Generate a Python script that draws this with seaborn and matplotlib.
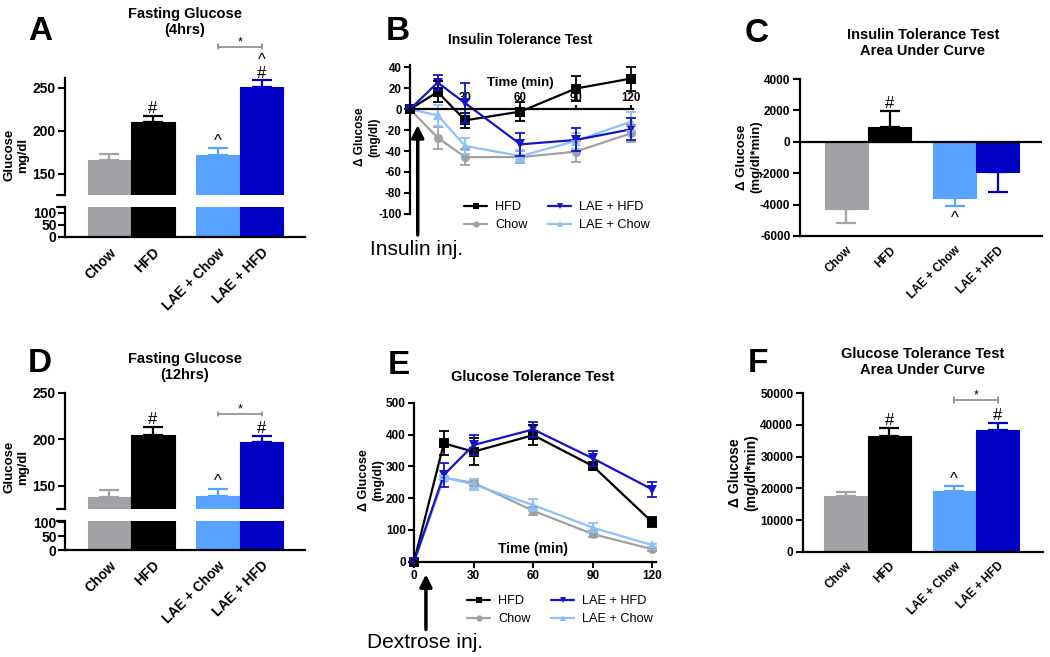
import numpy as np
import pandas as pd
import matplotlib
matplotlib.use('Agg')
import matplotlib.pyplot as plt
from matplotlib.lines import Line2D
import seaborn as sns

sns.set_style('ticks')
plt.rcParams['font.family'] = ['Liberation Sans', 'DejaVu Sans']
plt.rcParams['axes.unicode_minus'] = False
for k in ['text.color', 'axes.edgecolor', 'xtick.color', 'ytick.color', 'axes.labelcolor']:
    plt.rcParams[k] = 'black'

W, H = 1050, 657

# ---- data ----
groups = ['Chow', 'HFD', 'LAE + Chow', 'LAE + HFD']
bar_colors = {'Chow': '#A2A1A6', 'HFD': '#000000', 'LAE + Chow': '#58A3FF', 'LAE + HFD': '#0000C4'}
line_colors = {'HFD': '#000000', 'Chow': '#A0A0A0', 'LAE + HFD': '#1414C8', 'LAE + Chow': '#8CC2FA'}
line_markers = {'HFD': 's', 'Chow': 'o', 'LAE + HFD': 'v', 'LAE + Chow': '^'}
line_order = ['HFD', 'Chow', 'LAE + HFD', 'LAE + Chow']

fast4_mean = [166, 210, 172, 251]
fast4_err = [7, 6.5, 7.5, 7.5]
fast12_mean = [138, 205, 139, 197]
fast12_err = [7.5, 8.5, 8, 7]
itt_auc_mean = [-4300, 970, -3600, -1920]
itt_auc_err = [900, 1000, 470, 1270]
gtt_auc_mean = [17700, 36500, 19150, 38300]
gtt_auc_err = [1000, 2400, 1600, 2300]

times = [0, 15, 30, 60, 90, 120]
itt = {
    'HFD': [0, 16.6, -10.6, -2.2, 19.8, 29.4],
    'Chow': [0, -27.2, -45.8, -45.8, -40.6, -23],
    'LAE + HFD': [0, 25.6, 5.8, -33.6, -29.4, -19.2],
    'LAE + Chow': [0, -5.8, -35.2, -44.8, -30.4, -11.8],
}
itt_err = {
    'HFD': [0, 10, 7, 9, 12, 11.5],
    'Chow': [0, 10.5, 8, 6, 10, 8],
    'LAE + HFD': [0, 7, 19, 11, 11, 10.5],
    'LAE + Chow': [0, 10, 8, 6, 8, 9],
}
gtt = {
    'HFD': [0, 372, 346, 398, 301, 124],
    'Chow': [0, 264, 248, 160, 87, 39],
    'LAE + HFD': [0, 273, 367, 416, 325, 227],
    'LAE + Chow': [0, 265, 243, 178, 107, 52],
}
gtt_err = {
    'HFD': [0, 38, 42, 31, 12, 15],
    'Chow': [0, 5, 10, 12, 10, 5],
    'LAE + HFD': [0, 38, 30, 24, 24, 25],
    'LAE + Chow': [0, 5, 18, 18, 15, 5],
}

bar_pos = [0, 1, 2.5, 3.5]


def rect(l, t, r, b):
    return [l / W, 1 - b / H, (r - l) / W, (b - t) / H]


def ftext(x, y, s, **kw):
    fig.text(x / W, 1 - y / H, s, **kw)


def ylab(x, y, s, size):
    ftext(x, y, s, fontsize=size, fontweight='bold', rotation=90, ha='center', va='center',
          multialignment='center')


def bars(ax, mean):
    df = pd.DataFrame({'pos': bar_pos, 'val': mean, 'group': groups})
    sns.barplot(data=df, x='pos', y='val', hue='group', hue_order=groups, palette=bar_colors,
                native_scale=True, width=1, dodge=False, errorbar=None, legend=False,
                saturation=1, ax=ax)
    for p in ax.patches:
        p.set_edgecolor(p.get_facecolor())
        p.set_linewidth(0.8)


def bar_err(ax, mean, err):
    for p, m, e, g in zip(bar_pos, mean, err, groups):
        lo, hi = (0, e) if m >= 0 else (e, 0)
        ax.errorbar(p, m, yerr=[[lo], [hi]], fmt='none', ecolor=bar_colors[g],
                    elinewidth=1.6, capsize=7.5, capthick=1.6, clip_on=False, zorder=1)


def mark(ax, x, y, s, off=5.5, size=12):
    ax.annotate(s, (x, y), xytext=(0, off), textcoords='offset points', ha='center', va='center',
                fontsize=size, annotation_clip=False)


def bracket(ax, y, h, x0=2.5, x1=3.5):
    ax.plot([x0, x1], [y, y], color='#808080', lw=1.1, clip_on=False)
    for x in (x0, x1):
        ax.plot([x, x], [y - h, y + h], color='#808080', lw=1.1, clip_on=False)
    ax.annotate('*', (0.5 * (x0 + x1), y), xytext=(0, 1), textcoords='offset points',
                ha='center', va='baseline', fontsize=9, annotation_clip=False)


def style_ticks(ax, size=8.5):
    for lab in ax.get_yticklabels() + ax.get_xticklabels():
        lab.set_fontweight('bold')
        lab.set_fontsize(size)
    ax.tick_params(width=1.5, length=5, pad=2)
    for s in ax.spines.values():
        s.set_linewidth(1.6)


def cat_labels(ax):
    ax.set_xticks(bar_pos)
    ax.set_xticklabels(groups, rotation=45, ha='right', rotation_mode='anchor',
                       fontweight='bold', fontsize=9.3)
    ax.set_xlabel('')
    ax.set_ylabel('')


def broken_panel(up_rect, low_rect, mean, err, up_lim, low_lim, up_ticks):
    au = fig.add_axes(rect(*up_rect))
    al = fig.add_axes(rect(*low_rect))
    bars(au, mean)
    bars(al, mean)
    bar_err(au, mean, err)
    au.set_ylim(*up_lim)
    al.set_ylim(*low_lim)
    for a in (au, al):
        a.set_xlim(-1.02, 4.5)
        sns.despine(ax=a)
    au.spines['bottom'].set_visible(False)
    au.set_xticks([])
    au.set_yticks(up_ticks)
    al.set_yticks([0, 50, 100])
    au.set_xlabel('')
    au.set_ylabel('')
    cat_labels(al)
    style_ticks(au, size=10)
    style_ticks(al, size=10)
    al.tick_params(axis='x', length=0, pad=6)
    al.tick_params(axis='y', pad=1)
    # break caps
    au.plot([-0.035, 0], [0, 0], transform=au.transAxes, color='k', lw=1.6, clip_on=False)
    al.plot([-0.035, 0], [1, 1], transform=al.transAxes, color='k', lw=1.6, clip_on=False)
    return au, al


def line_panel(ax, data, err):
    rows = []
    for g in line_order:
        for t, v in zip(times, data[g]):
            rows.append({'time': t, 'val': v, 'group': g})
    df = pd.DataFrame(rows)
    plot_order = ['Chow', 'LAE + Chow', 'HFD', 'LAE + HFD']
    sns.lineplot(data=df, x='time', y='val', hue='group', style='group', hue_order=plot_order,
                 style_order=plot_order, palette=line_colors, markers=line_markers, dashes=False,
                 markersize=6.5, markeredgewidth=0, lw=1.6, legend=False, ax=ax, clip_on=False)
    for g in plot_order:
        ax.errorbar(times, data[g], yerr=err[g], fmt='none', ecolor=line_colors[g],
                    elinewidth=1.3, capsize=3.5, capthick=1.3, clip_on=False)
    ax.set_xlabel('')
    ax.set_ylabel('')


def line_legend(x, y):
    handles = [Line2D([], [], color=line_colors[g], marker=line_markers[g], markersize=4.5,
                      lw=1.6, markeredgewidth=0) for g in line_order]
    fig.legend(handles, line_order, loc='upper left', bbox_to_anchor=(x / W, 1 - y / H),
               ncol=2, frameon=False, fontsize=9.2, borderpad=0, handlelength=1.8,
               handletextpad=0.6, labelspacing=0.45, columnspacing=1.6)


fig = plt.figure(figsize=(10.5, 6.57), dpi=100)

# ---- A ----
au, al = broken_panel((65, 78, 305, 195.5), (65, 207, 305, 237), fast4_mean, fast4_err,
                      (125, 261), (0, 125), [150, 200, 250])
mark(au, 1, fast4_mean[1] + fast4_err[1], '#')
mark(au, 2.5, fast4_mean[2] + fast4_err[2], '^', off=5)
mark(au, 3.5, fast4_mean[3] + fast4_err[3], '#', off=5)
mark(au, 3.5, fast4_mean[3] + fast4_err[3], '^', off=14.5)
bracket(au, 297, h=3)
ftext(40, 32, 'A', fontsize=24, fontweight='bold', ha='center', va='center')
ftext(185, 22, 'Fasting Glucose\n(4hrs)', fontsize=10.5, fontweight='bold', ha='center', va='center')
ylab(16, 155, 'Glucose\nmg/dl', 9.5)

# ---- D ----
du, dl = broken_panel((65, 393, 305, 509), (65, 521, 305, 550), fast12_mean, fast12_err,
                      (125, 250), (0, 105), [150, 200, 250])
mark(du, 1, fast12_mean[1] + fast12_err[1], '#')
mark(du, 2.5, fast12_mean[2] + fast12_err[2], '^', off=5)
mark(du, 3.5, fast12_mean[3] + fast12_err[3], '#')
bracket(du, 227.5, h=2.5)
ftext(40, 364, 'D', fontsize=24, fontweight='bold', ha='center', va='center')
ftext(185, 367, 'Fasting Glucose\n(12hrs)', fontsize=10.5, fontweight='bold', ha='center', va='center')
ylab(16, 467, 'Glucose\nmg/dl', 9.5)

# ---- C ----
ac = fig.add_axes(rect(800, 79, 1042, 236))
bars(ac, itt_auc_mean)
bar_err(ac, itt_auc_mean, itt_auc_err)
ac.axhline(0, color='k', lw=1.6, zorder=3)
ac.set_ylim(-6000, 4000)
ac.set_xlim(-1.07, 4.52)
ac.set_yticks(range(-6000, 4001, 2000))
sns.despine(ax=ac)
cat_labels(ac)
style_ticks(ac)
ac.tick_params(axis='x', length=0, pad=6)
mark(ac, 1, itt_auc_mean[1] + itt_auc_err[1], '#')
mark(ac, 2.5, itt_auc_mean[2] - itt_auc_err[2], '^', off=-9)
ftext(757, 33, 'C', fontsize=24, fontweight='bold', ha='center', va='center')
ftext(923, 43, 'Insulin Tolerance Test\nArea Under Curve', fontsize=10.5, fontweight='bold',
      ha='center', va='center')
ylab(749, 157, '\u0394 Glucose\n(mg/dl*min)', 9.5)

# ---- F ----
af = fig.add_axes(rect(803, 393.3, 1043, 551.7))
bars(af, gtt_auc_mean)
bar_err(af, gtt_auc_mean, gtt_auc_err)
af.set_ylim(0, 50000)
af.set_xlim(-0.99, 4.55)
af.set_yticks(range(0, 50001, 10000))
sns.despine(ax=af)
cat_labels(af)
style_ticks(af)
af.tick_params(axis='x', length=0, pad=6)
mark(af, 1, gtt_auc_mean[1] + gtt_auc_err[1], '#')
mark(af, 2.5, gtt_auc_mean[2] + gtt_auc_err[2], '^', off=5)
mark(af, 3.5, gtt_auc_mean[3] + gtt_auc_err[3], '#')
bracket(af, 47900, h=900)
ftext(758, 364, 'F', fontsize=24, fontweight='bold', ha='center', va='center')
ftext(923, 362, 'Glucose Tolerance Test\nArea Under Curve', fontsize=10.5, fontweight='bold',
      ha='center', va='center')
ylab(743, 473, '\u0394 Glucose\n(mg/dl*min)', 10)

# ---- B ----
ab = fig.add_axes(rect(410, 65.4, 632.8, 213.7))
line_panel(ab, itt, itt_err)
ab.set_xlim(0, 121)
ab.set_ylim(-100, 42)
ab.set_yticks(range(-100, 41, 20))
ab.spines['right'].set_visible(False)
ab.spines['bottom'].set_visible(False)
ab.spines['top'].set_position(('data', 0))
ab.xaxis.set_ticks_position('top')
ab.set_xticks([0, 30, 60, 90, 120])
ab.set_xticklabels(['', '30', '60', '90', '120'])
style_ticks(ab, size=8.3)
ab.tick_params(axis='x', length=3, pad=1)
ab.tick_params(axis='y', length=4)
ab.text(60, 25, 'Time (min)', fontsize=9.5, fontweight='bold', ha='center', va='center')
ab.annotate('', xy=(4.2, -12.5), xytext=(4.2, -123), annotation_clip=False,
            arrowprops=dict(arrowstyle='-|>', lw=2.5, color='k', mutation_scale=18))
ab.text(3.3, -134, 'Insulin inj.', fontsize=15, ha='center', va='center', clip_on=False)
line_legend(458, 195)
ftext(398, 32, 'B', fontsize=24, fontweight='bold', ha='center', va='center')
ftext(520, 40, 'Insulin Tolerance Test', fontsize=10, fontweight='bold', ha='center', va='center')
ylab(367, 137, '\u0394 Glucose\n(mg/dl)', 8.5)

# ---- E ----
ae = fig.add_axes(rect(414, 402.7, 656, 561.7))
line_panel(ae, gtt, gtt_err)
ae.set_xlim(0, 121.8)
ae.set_ylim(0, 500)
ae.set_yticks(range(0, 501, 100))
ae.set_xticks([0, 30, 60, 90, 120])
sns.despine(ax=ae)
style_ticks(ae, size=8.5)
ae.tick_params(length=4)
ae.text(60, 40, 'Time (min)', fontsize=10, fontweight='bold', ha='center', va='center')
ae.annotate('', xy=(6.0, -31), xytext=(6.0, -222), annotation_clip=False,
            arrowprops=dict(arrowstyle='-|>', lw=2.5, color='k', mutation_scale=18))
ae.text(5.5, -254, 'Dextrose inj.', fontsize=15, ha='center', va='center', clip_on=False)
line_legend(461, 589)
ftext(399, 366, 'E', fontsize=24, fontweight='bold', ha='center', va='center')
ftext(533, 377, 'Glucose Tolerance Test', fontsize=10.5, fontweight='bold', ha='center', va='center')
ylab(371, 480, '\u0394 Glucose\n(mg/dl)', 9)

fig.savefig('out.png', dpi=100, facecolor='white')
